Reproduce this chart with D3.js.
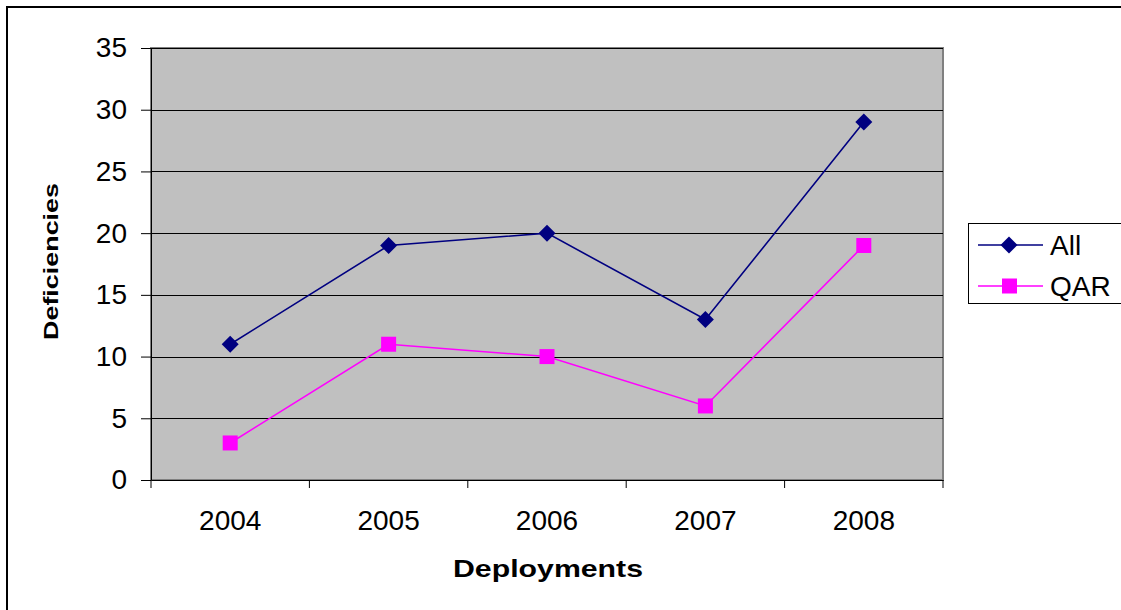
<!DOCTYPE html>
<html><head><meta charset="utf-8">
<script src="https://cdn.jsdelivr.net/npm/d3@7"></script>
<style>html,body{margin:0;padding:0;background:#fff;}svg{display:block;font-family:"Liberation Sans",Arial,sans-serif;}</style>
</head><body><svg id="c" width="1121" height="610"></svg>
<script>
const years = ["2004","2005","2006","2007","2008"];
const allValues = [11, 19, 20, 13, 29];
const qarValues = [3, 11, 10, 6, 19];
const yTicks = [0,5,10,15,20,25,30,35];
const seriesNames = ["All","QAR"];

const svg = d3.select("#c");
const L=151, R=943, T=48, B=480;
svg.append("rect").attr("x",7).attr("y",7).attr("width",1130).attr("height",620).attr("fill","#fff").attr("stroke","#000").attr("stroke-width",2);

const x = d3.scaleBand().domain(years).range([L,R]);
const y = d3.scaleLinear().domain([0,35]).range([B,T]);

svg.append("rect").attr("x",L).attr("y",T).attr("width",R-L).attr("height",B-T).attr("fill","#c0c0c0").attr("stroke","#808080").attr("stroke-width",2);

// gridlines
svg.append("g").selectAll("line").data(yTicks.filter(d=>d>0)).join("line")
  .attr("x1",L).attr("x2",R).attr("y1",d=>Math.round(y(d))+0.5).attr("y2",d=>Math.round(y(d))+0.5)
  .attr("stroke","#000").attr("stroke-width",1);

// y axis
const ya = svg.append("g").attr("transform",`translate(${L},0)`).call(d3.axisLeft(y).tickValues(yTicks).tickSize(10).tickSizeOuter(0).tickPadding(14));
ya.select(".domain").attr("stroke","#000");
ya.selectAll("text").attr("font-size",28).attr("fill","#000").attr("font-family","Liberation Sans, Arial, sans-serif");
ya.selectAll("line").attr("stroke","#000");

// x axis
const xa = svg.append("g").attr("transform",`translate(0,${B})`).call(d3.axisBottom(x).tickSize(0).tickPadding(30));
xa.select(".domain").attr("stroke","#000");
xa.selectAll("text").attr("font-size",28).attr("fill","#000").attr("font-family","Liberation Sans, Arial, sans-serif");
const bounds = years.map(d=>x(d)).concat([R]);
svg.append("g").selectAll("line").data(bounds).join("line")
  .attr("x1",d=>d).attr("x2",d=>d).attr("y1",B).attr("y2",B+8).attr("stroke","#000");

// titles
svg.append("text").attr("x",548).attr("y",577).attr("text-anchor","middle").attr("font-size",24).attr("font-weight","bold")
  .attr("textLength",190).attr("lengthAdjust","spacingAndGlyphs").text("Deployments");
svg.append("text").attr("transform","translate(58,261.5) rotate(-90)").attr("text-anchor","middle").attr("font-size",20).attr("font-weight","bold")
  .attr("textLength",157).attr("lengthAdjust","spacingAndGlyphs").text("Deficiencies");

const cx = d => x(d)+x.bandwidth()/2;
const line = d3.line().x((d,i)=>cx(years[i])).y(d=>y(d));

const allColor="#000080", qarColor="#ff00ff";
svg.append("path").datum(allValues).attr("d",line).attr("fill","none").attr("stroke",allColor).attr("stroke-width",1.6);
svg.append("path").datum(qarValues).attr("d",line).attr("fill","none").attr("stroke",qarColor).attr("stroke-width",1.6);

const diamond = (px,py,s)=>`M${px},${py-s}L${px+s},${py}L${px},${py+s}L${px-s},${py}Z`;
svg.append("g").selectAll("path").data(allValues).join("path")
  .attr("d",(d,i)=>diamond(cx(years[i]),y(d),8.5)).attr("fill",allColor);
svg.append("g").selectAll("rect").data(qarValues).join("rect")
  .attr("x",(d,i)=>cx(years[i])-7.5).attr("y",d=>y(d)-7.5).attr("width",15).attr("height",15).attr("fill",qarColor);

// legend
const lg = svg.append("g");
lg.append("rect").attr("x",968.5).attr("y",223.5).attr("width",160).attr("height",80).attr("fill","#fff").attr("stroke","#000").attr("stroke-width",1);
const ly = [245, 286];
lg.append("line").attr("x1",978).attr("x2",1043).attr("y1",ly[0]).attr("y2",ly[0]).attr("stroke",allColor).attr("stroke-width",1.6);
lg.append("path").attr("d",diamond(1009,ly[0],8.5)).attr("fill",allColor);
lg.append("line").attr("x1",978).attr("x2",1043).attr("y1",ly[1]).attr("y2",ly[1]).attr("stroke",qarColor).attr("stroke-width",1.6);
lg.append("rect").attr("x",1002).attr("y",ly[1]-7.5).attr("width",15).attr("height",15).attr("fill",qarColor);
lg.selectAll("text.l").data(seriesNames).join("text").attr("x",1050).attr("y",(d,i)=>ly[i]+10).attr("font-size",28).text(d=>d);
</script></body></html>
